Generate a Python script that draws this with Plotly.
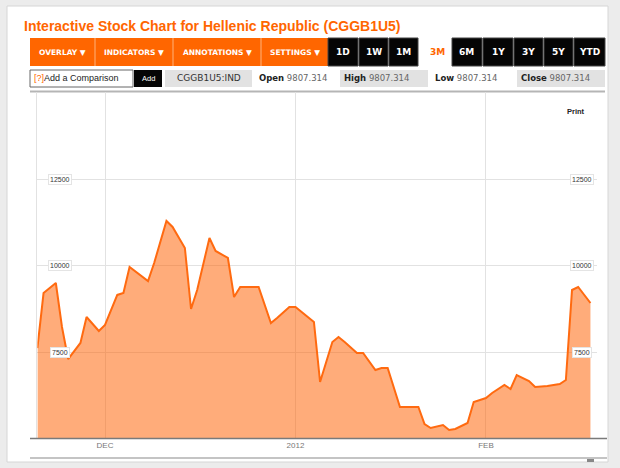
import plotly.graph_objects as go

# ---------------- data ----------------
dates = [
    "2011-11-20", "2011-11-21", "2011-11-23", "2011-11-24", "2011-11-25", "2011-11-27",
    "2011-11-28", "2011-11-30", "2011-12-01", "2011-12-03", "2011-12-04", "2011-12-05",
    "2011-12-08", "2011-12-09", "2011-12-11", "2011-12-12", "2011-12-14", "2011-12-15",
    "2011-12-16", "2011-12-18", "2011-12-19", "2011-12-21", "2011-12-22", "2011-12-23",
    "2011-12-26", "2011-12-28", "2011-12-29", "2011-12-31", "2012-01-01", "2012-01-02",
    "2012-01-04", "2012-01-05", "2012-01-07", "2012-01-08", "2012-01-09", "2012-01-11",
    "2012-01-12", "2012-01-14", "2012-01-15", "2012-01-16", "2012-01-18", "2012-01-21",
    "2012-01-22", "2012-01-23", "2012-01-25", "2012-01-26", "2012-01-27", "2012-01-29",
    "2012-01-30", "2012-02-01", "2012-02-02", "2012-02-04", "2012-02-05", "2012-02-06",
    "2012-02-08", "2012-02-09", "2012-02-11", "2012-02-13", "2012-02-14", "2012-02-15",
    "2012-02-16", "2012-02-18",
]
values = [
    7635, 9220, 9509, 8241, 7318, 7780,
    8529, 8125, 8300, 9165, 9220, 9970,
    9566, 10085, 11296, 11123, 10517, 8760,
    9307, 10806, 10431, 10229, 9105, 9393,
    9393, 8356, 8500, 8817, 8817, 8673,
    8385, 6657, 7808, 7952, 7808, 7491,
    7491, 7001, 7059, 7059, 5935, 5935,
    5445, 5330, 5416, 5272, 5301, 5474,
    6079, 6194, 6338, 6569, 6454, 6857,
    6685, 6512, 6541, 6598, 6713, 9307,
    9393, 8932,
]
y_ticks = [7500, 10000, 12500]
y_tick_labels = ["7500", "10000", "12500"]
x_ticks = ["2011-12-01", "2012-01-01", "2012-02-01"]
x_tick_labels = ["DEC", "2012", "FEB"]

title_text = "Interactive Stock Chart for Hellenic Republic (CGGB1U5)"
menu_labels = ["OVERLAY \u25BC", "INDICATORS \u25BC", "ANNOTATIONS \u25BC", "SETTINGS \u25BC"]
period_labels = ["1D", "1W", "1M", "3M", "6M", "1Y", "3Y", "5Y", "YTD"]
active_period = "3M"
ticker = "CGGB1U5:IND"
quote_labels = ["Open", "High", "Low", "Close"]
quote_values = ["9807.314", "9807.314", "9807.314", "9807.314"]

# ---------------- helpers ----------------
W, H = 620, 468
FONT = "Liberation Sans, Arial, sans-serif"
WIDE = "DejaVu Sans, Verdana, sans-serif"
ORANGE = "#FF6600"


def px(x):
    return x / W


def py(y):
    return 1 - y / H


shapes = []
annotations = []


def rect(x0, y0, x1, y1, fill, line_color=None, line_width=0, layer="below"):
    shapes.append(dict(type="rect", xref="paper", yref="paper",
                       x0=px(x0), x1=px(x1), y0=py(y1), y1=py(y0),
                       fillcolor=fill,
                       line=dict(color=line_color or fill, width=line_width),
                       layer=layer))


def hline(x0, x1, y, color, width, layer="above"):
    shapes.append(dict(type="line", xref="paper", yref="paper",
                       x0=px(x0), x1=px(x1), y0=py(y), y1=py(y),
                       line=dict(color=color, width=width), layer=layer))


def text(x, y, s, size=8, color="#333", anchor="center", bold=False, family=FONT):
    if bold:
        s = "<b>" + s + "</b>"
    annotations.append(dict(xref="paper", yref="paper", x=px(x), y=py(y), text=s, showarrow=False,
                            xanchor=anchor, yanchor="middle",
                            font=dict(family=family, size=size, color=color)))


# ---------------- page frame ----------------
rect(7, 6, 608, 462, "white", "#d6d6d6", 1)

# title
text(22, 26, title_text, size=14, color=ORANGE, anchor="left", bold=True)

# toolbar: orange menus
menu_edges = [30, 95, 173, 261, 328]
rect(30, 38, 328, 66, ORANGE)
for i, lab in enumerate(menu_labels):
    x0, x1 = menu_edges[i], menu_edges[i + 1]
    if i > 0:
        shapes.append(dict(type="line", xref="paper", yref="paper",
                           x0=px(x0), x1=px(x0), y0=py(66), y1=py(38),
                           line=dict(color="#ffb27a", width=1), layer="below"))
    text((x0 + x1) / 2, 52, lab, size=7.5, color="white", bold=True, family=WIDE)

# period buttons
period_edges = [(328, 358), (359, 388), (389, 418), (419, 451), (452, 482),
                (483, 513), (514, 543), (544, 573), (574, 605)]
for lab, (x0, x1) in zip(period_labels, period_edges):
    if lab == active_period:
        text((x0 + x1) / 2 + 2, 52, lab, size=9, color=ORANGE, bold=True, family=WIDE)
    else:
        rect(x0, 38, x1, 66, "#050505", "#444", 1)
        text((x0 + x1) / 2, 52, lab, size=9, color="white", bold=True, family=WIDE)

# second row
rect(30, 70, 133, 87, "white", "#666", 1)
text(32, 78.5, "<span style='color:#FF6600'>[?]</span>Add a Comparison", size=9, color="#222", anchor="left")
rect(134, 70, 162, 87, "#050505")
text(148, 78.5, "Add", size=7.5, color="white")
rect(165, 70, 252, 87, "#e2e2e2")
text(208.5, 78.5, ticker, size=9, color="#333", family=WIDE)
quote_boxes = [(255, 337, False), (340, 428, True), (431, 514, False), (517, 605, True)]
for (x0, x1, gray), lab, val in zip(quote_boxes, quote_labels, quote_values):
    if gray:
        rect(x0, 70, x1, 87, "#e2e2e2")
    text(x0 + 2, 78.5, "<b>" + lab + "</b> <span style='color:#666'>" + val + "</span>",
         size=8.5, color="#222", anchor="left", family=WIDE)
hline(30, 605, 91.5, "#b5b5b5", 2, layer="below")

# chart area geometry
PX_L, PX_R = 37.4, 596.6
PY_T, PY_B = 92, 438.5

# axis baseline and bottom bar
hline(30, 607, PY_B, "#7a7a7a", 1.5, layer="above")
hline(30, 607, 458, "#c4c4c4", 2, layer="below")
rect(587, 459, 594, 462, "#888")

# Print
text(576, 111, "Print", size=7.5, color="#222", bold=True)

# y tick labels (inside the plot, both sides)
for v, lab in zip(y_ticks, y_tick_labels):
    for xc in (59.5, 581.5):
        annotations.append(dict(xref="paper", yref="y", x=px(xc), y=v, text=lab, showarrow=False,
                                xanchor="center", yanchor="middle",
                                font=dict(family=FONT, size=7, color="#333"),
                                bgcolor="white", bordercolor="#e4e4e4", borderwidth=1, borderpad=1))

# ---------------- figure ----------------
fig = go.Figure()
fig.add_trace(go.Scatter(
    x=dates, y=values, mode="lines", fill="tozeroy",
    line=dict(color="#FF6A10", width=2),
    fillcolor="rgba(255,95,0,0.52)",
    hoverinfo="skip",
))

scale = 34.7 / 1000.0
y_lo = 7500 - (PY_B - 352.7) / scale
y_hi = 7500 + (352.7 - PY_T) / scale

fig.update_layout(
    width=W, height=H,
    margin=dict(l=0, r=0, t=0, b=0),
    paper_bgcolor="#ececec",
    plot_bgcolor="rgba(0,0,0,0)",
    showlegend=False,
    shapes=shapes,
    annotations=annotations,
    xaxis=dict(
        domain=[px(PX_L), px(PX_R)],
        range=["2011-11-20", "2012-02-19"],
        tickvals=x_ticks, ticktext=x_tick_labels,
        showgrid=True, gridcolor="#e2e2e2", gridwidth=1,
        zeroline=False, showline=False, ticks="",
        tickfont=dict(family=FONT, size=8, color="#777"),
        fixedrange=True,
    ),
    yaxis=dict(
        domain=[py(PY_B), py(PY_T)],
        range=[y_lo, y_hi],
        tickvals=y_ticks, showticklabels=False,
        showgrid=True, gridcolor="#e2e2e2", gridwidth=1,
        zeroline=False, showline=True, linecolor="#e2e2e2", linewidth=1, ticks="",
        fixedrange=True,
    ),
)

fig.write_html("out.html", config={"displayModeBar": False},
               post_script="document.body.style.margin='0';document.body.style.overflow='hidden';")
